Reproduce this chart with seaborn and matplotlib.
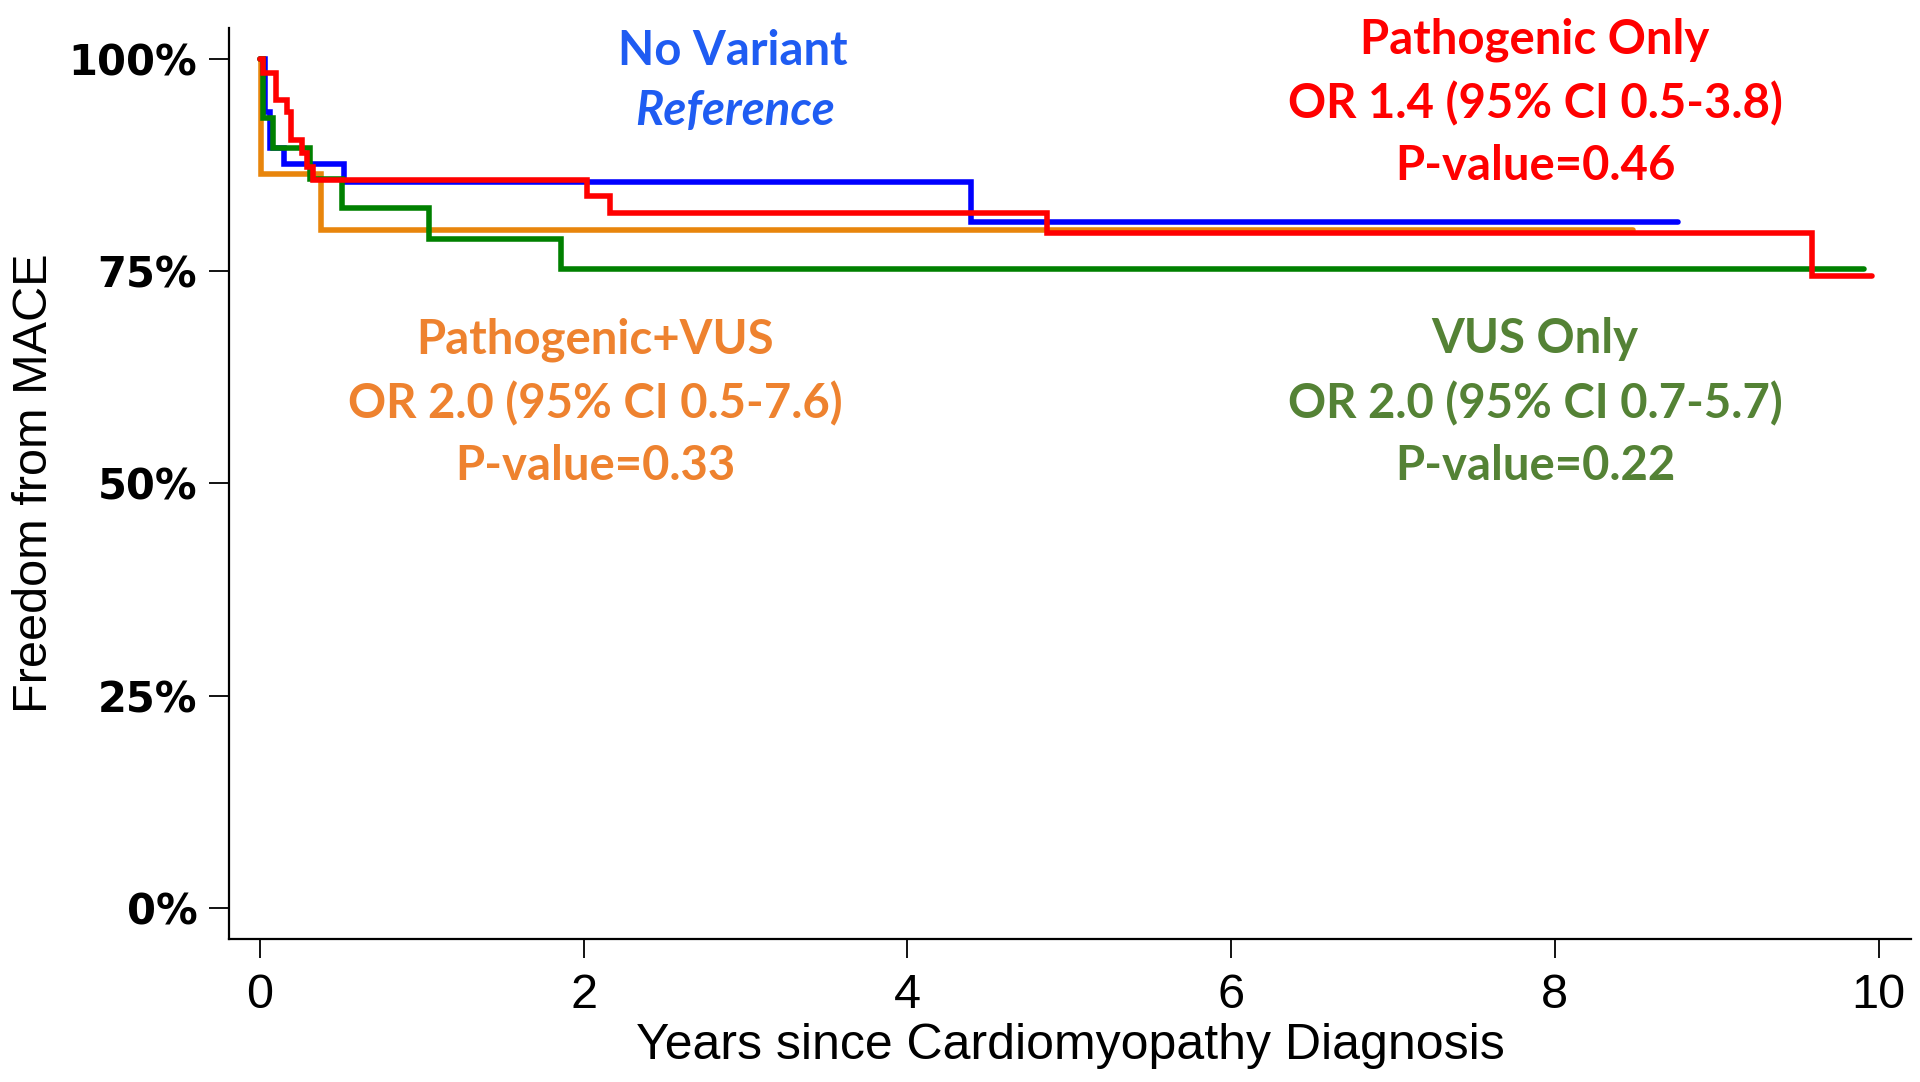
import pandas as pd
import numpy as np
import matplotlib
matplotlib.use("Agg")
import matplotlib.pyplot as plt
import seaborn as sns

# Kaplan-Meier step points (years, % free from MACE)
no_variant_t = [0, 0.03, 0.06, 0.145, 0.52, 4.39, 8.76]
no_variant_s = [100, 93.8, 89.5, 87.6, 85.5, 80.8, 80.8]

pathogenic_t = [0, 0.02, 0.10, 0.165, 0.19, 0.26, 0.29, 0.33, 2.02, 2.16, 4.86, 9.59, 9.96]
pathogenic_s = [100, 98.3, 95.2, 93.8, 90.5, 88.9, 87.3, 85.8, 83.9, 81.9, 79.5, 74.4, 74.4]

vus_t = [0, 0.02, 0.083, 0.31, 0.506, 1.046, 1.857, 9.91]
vus_s = [100, 93.0, 89.5, 85.9, 82.4, 78.8, 75.2, 75.2]

path_vus_t = [0, 0.005, 0.376, 8.48]
path_vus_s = [100, 86.5, 79.9, 79.9]

groups = ["No Variant", "Pathogenic+VUS", "VUS Only", "Pathogenic Only"]
line_colors = {"No Variant": "#0000FF", "Pathogenic Only": "#FF0000",
               "VUS Only": "#008000", "Pathogenic+VUS": "#E8850C"}

y_ticks = [0, 25, 50, 75, 100]
y_ticklabels = ["0%", "25%", "50%", "75%", "100%"]
x_ticks = [0, 2, 4, 6, 8, 10]

df = pd.concat([
    pd.DataFrame({"group": "No Variant", "years": no_variant_t, "surv": no_variant_s}),
    pd.DataFrame({"group": "Pathogenic+VUS", "years": path_vus_t, "surv": path_vus_s}),
    pd.DataFrame({"group": "VUS Only", "years": vus_t, "surv": vus_s}),
    pd.DataFrame({"group": "Pathogenic Only", "years": pathogenic_t, "surv": pathogenic_s}),
])

sns.set_style("white")
plt.rcParams["font.family"] = ["Liberation Sans", "DejaVu Sans"]

fig = plt.figure(figsize=(19.2, 10.82), dpi=100)
ax = fig.add_axes([229.3 / 1920, 1 - 939.3 / 1082, (1911 - 229.3) / 1920, (939.3 - 28) / 1082])

for g in groups:
    sub = df[df["group"] == g]
    sns.lineplot(data=sub, x="years", y="surv", ax=ax, color=line_colors[g],
                 drawstyle="steps-post", estimator=None, sort=False,
                 linewidth=4.0, solid_capstyle="round", solid_joinstyle="miter",
                 legend=False)

ax.set_xlim(-0.19, 10.2)
ax.set_ylim(-3.72, 103.65)
ax.set_xticks(x_ticks)
ax.set_xticklabels([str(t) for t in x_ticks], fontsize=35)
ax.set_yticks(y_ticks)
ax.set_yticklabels(y_ticklabels, fontsize=30, family="DejaVu Sans", fontweight="bold")
ax.tick_params(axis="x", bottom=True, length=14, width=1.3, pad=10,
               color="black", labelcolor="black")
ax.tick_params(axis="y", left=True, length=14.5, width=1.3, pad=8.5,
               color="black", labelcolor="black")
ax.set_xlabel("Years since Cardiomyopathy Diagnosis", fontsize=36, labelpad=4, color="black")
ax.set_ylabel("Freedom from MACE", fontsize=35, labelpad=8, color="black")

sns.despine(ax=ax)
for s in ["left", "bottom"]:
    ax.spines[s].set_linewidth(1.6)
    ax.spines[s].set_color("black")

# annotations (pixel positions of each baseline)
def put(text, x, y, color, size=34, style="normal"):
    fig.text(x / 1920, 1 - y / 1082, text, ha="center", va="baseline",
             color=color, fontsize=size, fontweight="bold", fontstyle=style,
             family=["Lato", "DejaVu Sans"])

put("No Variant", 733, 65, "#1F5CF2", size=34)
put("Reference", 735, 125, "#1F5CF2", size=34, style="italic")

red_txt = "#FF0000"
put("Pathogenic Only", 1535, 53, red_txt)
put("OR 1.4 (95% CI 0.5-3.8)", 1535, 118, red_txt)
put("P-value=0.46", 1535, 180, red_txt)

orange_txt = "#EE822F"
put("Pathogenic+VUS", 595, 353, orange_txt)
put("OR 2.0 (95% CI 0.5-7.6)", 595, 418, orange_txt)
put("P-value=0.33", 595, 480, orange_txt)

green_txt = "#548235"
put("VUS Only", 1535, 353, green_txt)
put("OR 2.0 (95% CI 0.7-5.7)", 1535, 418, green_txt)
put("P-value=0.22", 1535, 480, green_txt)

fig.savefig("out.png", dpi=100)
